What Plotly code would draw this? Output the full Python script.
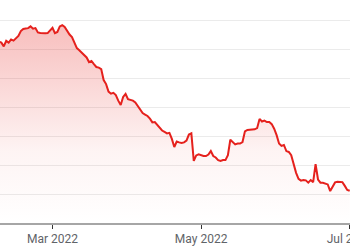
import pandas as pd
import plotly.graph_objects as go

# Daily closing values
start_day = "2022-02-07"
end_day = "2022-07-01"
values = [
    162.6, 162.2, 160.9, 162.8, 162.2, 163.3, 162.9, 163.6, 164.5, 166.2,
    166.9, 167.1, 167.2, 167.8, 167.0, 167.2, 165.7, 165.5, 165.4, 165.4,
    165.5, 166.6, 167.3, 165.5, 165.9, 167.8, 168.2, 167.6, 166.2, 165.0,
    164.1, 162.4, 160.3, 159.6, 158.8, 157.8, 157.1, 155.5, 155.9, 154.8,
    153.8, 153.6, 153.1, 149.3, 147.9, 145.3, 144.6, 144.9, 144.1, 142.2,
    140.7, 143.5, 144.5, 142.7, 142.4, 142.2, 141.6, 140.3, 139.0, 137.9,
    137.4, 136.9, 136.0, 134.7, 134.8, 133.8, 132.6, 131.9, 131.4, 130.9,
    131.1, 129.0, 126.2, 128.1, 127.8, 127.6, 127.8, 128.4, 130.5, 130.9,
    121.4, 123.3, 123.7, 123.3, 123.1, 123.1, 123.6, 124.8, 123.1, 122.6,
    121.7, 121.4, 121.7, 121.7, 123.4, 128.7, 127.9, 127.1, 127.4, 127.4,
    127.9, 131.6, 132.1, 132.1, 132.2, 132.3, 132.7, 135.9, 135.0, 135.3,
    134.8, 134.8, 134.1, 132.5, 130.3, 127.4, 126.6, 126.9, 124.8, 124.5,
    123.4, 120.0, 117.3, 115.2, 114.6, 114.8, 114.7, 113.9, 114.8, 114.1,
    120.3, 115.0, 113.9, 113.9, 113.6, 113.3, 111.0, 112.6, 114.0, 114.2,
    114.2, 114.1, 112.8, 111.4, 111.1,
]
dates = pd.date_range(start_day, end_day, freq="D")

x_range = ["2022-02-07 10:48", "2022-07-01 03:06"]
y_range = [100, 176.9]

line_color = "#e5211d"

fig = go.Figure()
fig.add_trace(go.Scatter(
    x=dates,
    y=values,
    mode="lines",
    line=dict(color=line_color, width=2),
    fill="tozeroy",
    fillgradient=dict(
        type="vertical",
        start=100,
        stop=170,
        colorscale=[
            [0.0, "rgba(229,33,29,0.0)"],
            [0.35, "rgba(229,33,29,0.05)"],
            [1.0, "rgba(229,33,29,0.30)"],
        ],
    ),
    hoverinfo="skip",
    showlegend=False,
))

fig.update_layout(
    width=350,
    height=250,
    margin=dict(l=0, r=0, t=0, b=27, autoexpand=False),
    paper_bgcolor="white",
    plot_bgcolor="white",
    font=dict(family="Roboto", size=12, color="#5f6368"),
    showlegend=False,
)
fig.update_xaxes(
    type="date",
    range=x_range,
    dtick="M2",
    tick0="2022-01-01",
    tickformat="%b %Y",
    showgrid=False,
    showline=True,
    linecolor="#a6a6a6",
    linewidth=2,
    ticks="outside",
    ticklen=4,
    tickwidth=1,
    tickcolor="#333333",
    automargin=False,
    ticklabeloverflow="allow",
)
fig.update_yaxes(
    range=y_range,
    dtick=10,
    tick0=100,
    showticklabels=False,
    showgrid=True,
    gridcolor="#ebebeb",
    gridwidth=1,
    zeroline=False,
    ticks="",
    automargin=False,
)

fig.write_html("out.html")
